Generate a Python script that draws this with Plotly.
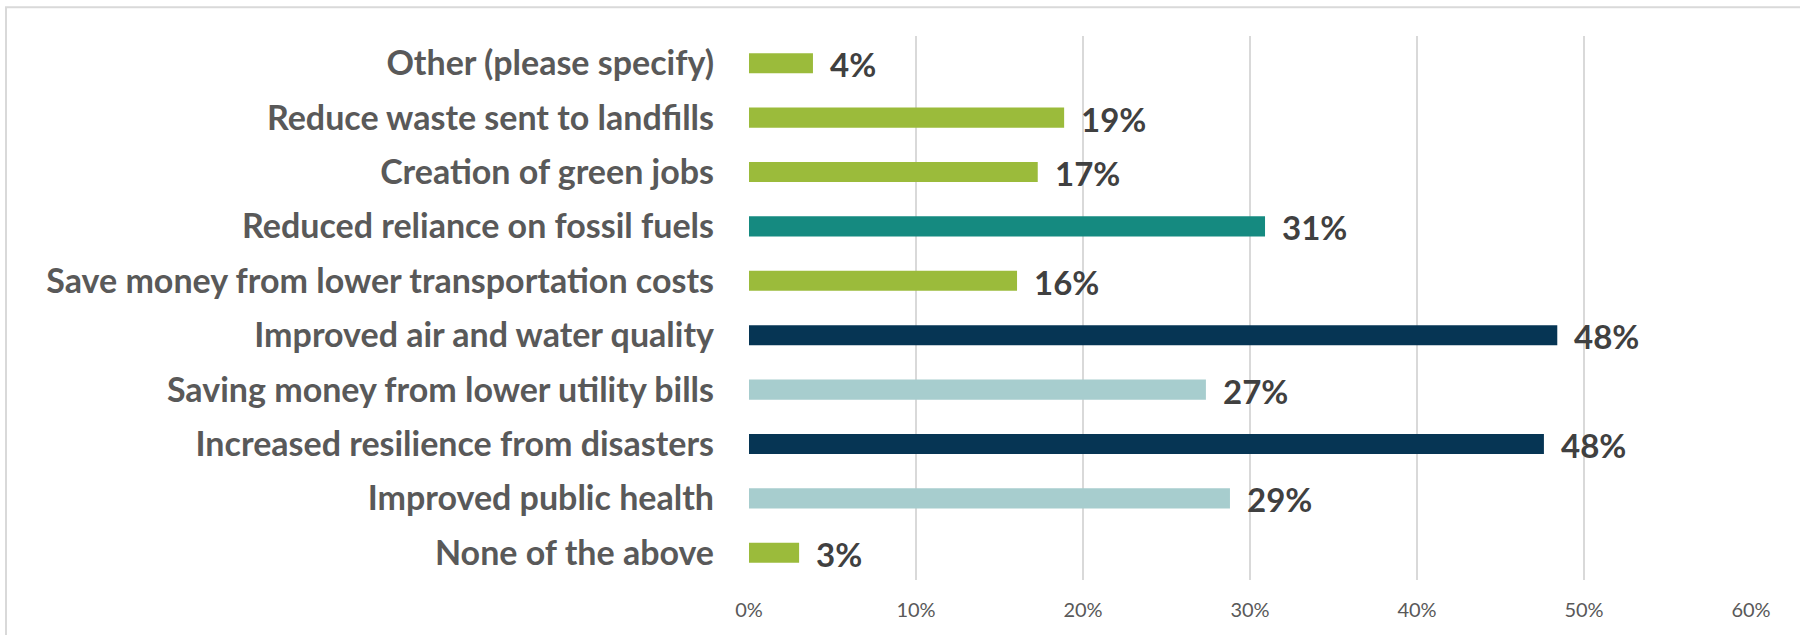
import plotly.graph_objects as go

categories = [
    "Other (please specify)",
    "Reduce waste sent to landfills",
    "Creation of green jobs",
    "Reduced reliance on fossil fuels",
    "Save money from lower transportation costs",
    "Improved air and water quality",
    "Saving money from lower utility bills",
    "Increased resilience from disasters",
    "Improved public health",
    "None of the above",
]
values = [0.0383, 0.1887, 0.1729, 0.309, 0.1605, 0.484, 0.2736, 0.476, 0.288, 0.030]
bar_colors = ["#9BBB3B", "#9BBB3B", "#9BBB3B", "#158A80", "#9BBB3B",
              "#063554", "#A7CDCE", "#063554", "#A7CDCE", "#9BBB3B"]
tick_vals = [0, 0.1, 0.2, 0.3, 0.4, 0.5, 0.6]
tick_text = ["0%", "10%", "20%", "30%", "40%", "50%", "60%"]

FONT = "Lato, 'Open Sans', sans-serif"

fig = go.Figure(go.Bar(
    x=values, y=categories, orientation="h",
    marker=dict(color=bar_colors, line=dict(width=0)),
    width=0.37, hoverinfo="skip",
))

for v, c in zip(values, categories):
    fig.add_annotation(x=v, y=c, text=f"{round(v * 100)}%", showarrow=False,
                       xanchor="left", xshift=15, yshift=-1,
                       font=dict(family=FONT, size=33, color="#404040", weight="bold"))

fig.add_shape(type="rect", xref="paper", yref="paper",
              x0=-0.7415, x1=1.2, y0=-0.4, y1=1.053,
              line=dict(color="#D9D9D9", width=2), fillcolor="rgba(0,0,0,0)",
              layer="below")

fig.update_layout(
    width=1800, height=635,
    margin=dict(l=749, r=49, t=36, b=55),
    paper_bgcolor="white", plot_bgcolor="white",
    showlegend=False,
    xaxis=dict(range=[0, 0.6], tickvals=tick_vals, ticktext=tick_text,
               showgrid=True, gridcolor="#D9D9D9", gridwidth=1.5,
               zeroline=False, showline=False, ticks="",
               tickfont=dict(family=FONT, size=20, color="#595959"),
               ticklabelstandoff=16),
    yaxis=dict(autorange="reversed", showgrid=False, zeroline=False,
               showline=False, ticks="",
               tickfont=dict(family=FONT, size=34, color="#595959", weight="bold"),
               ticklabelstandoff=34),
)

fig.write_html("out.html", config={"displayModeBar": False},
               post_script="document.body.style.margin='0';")
